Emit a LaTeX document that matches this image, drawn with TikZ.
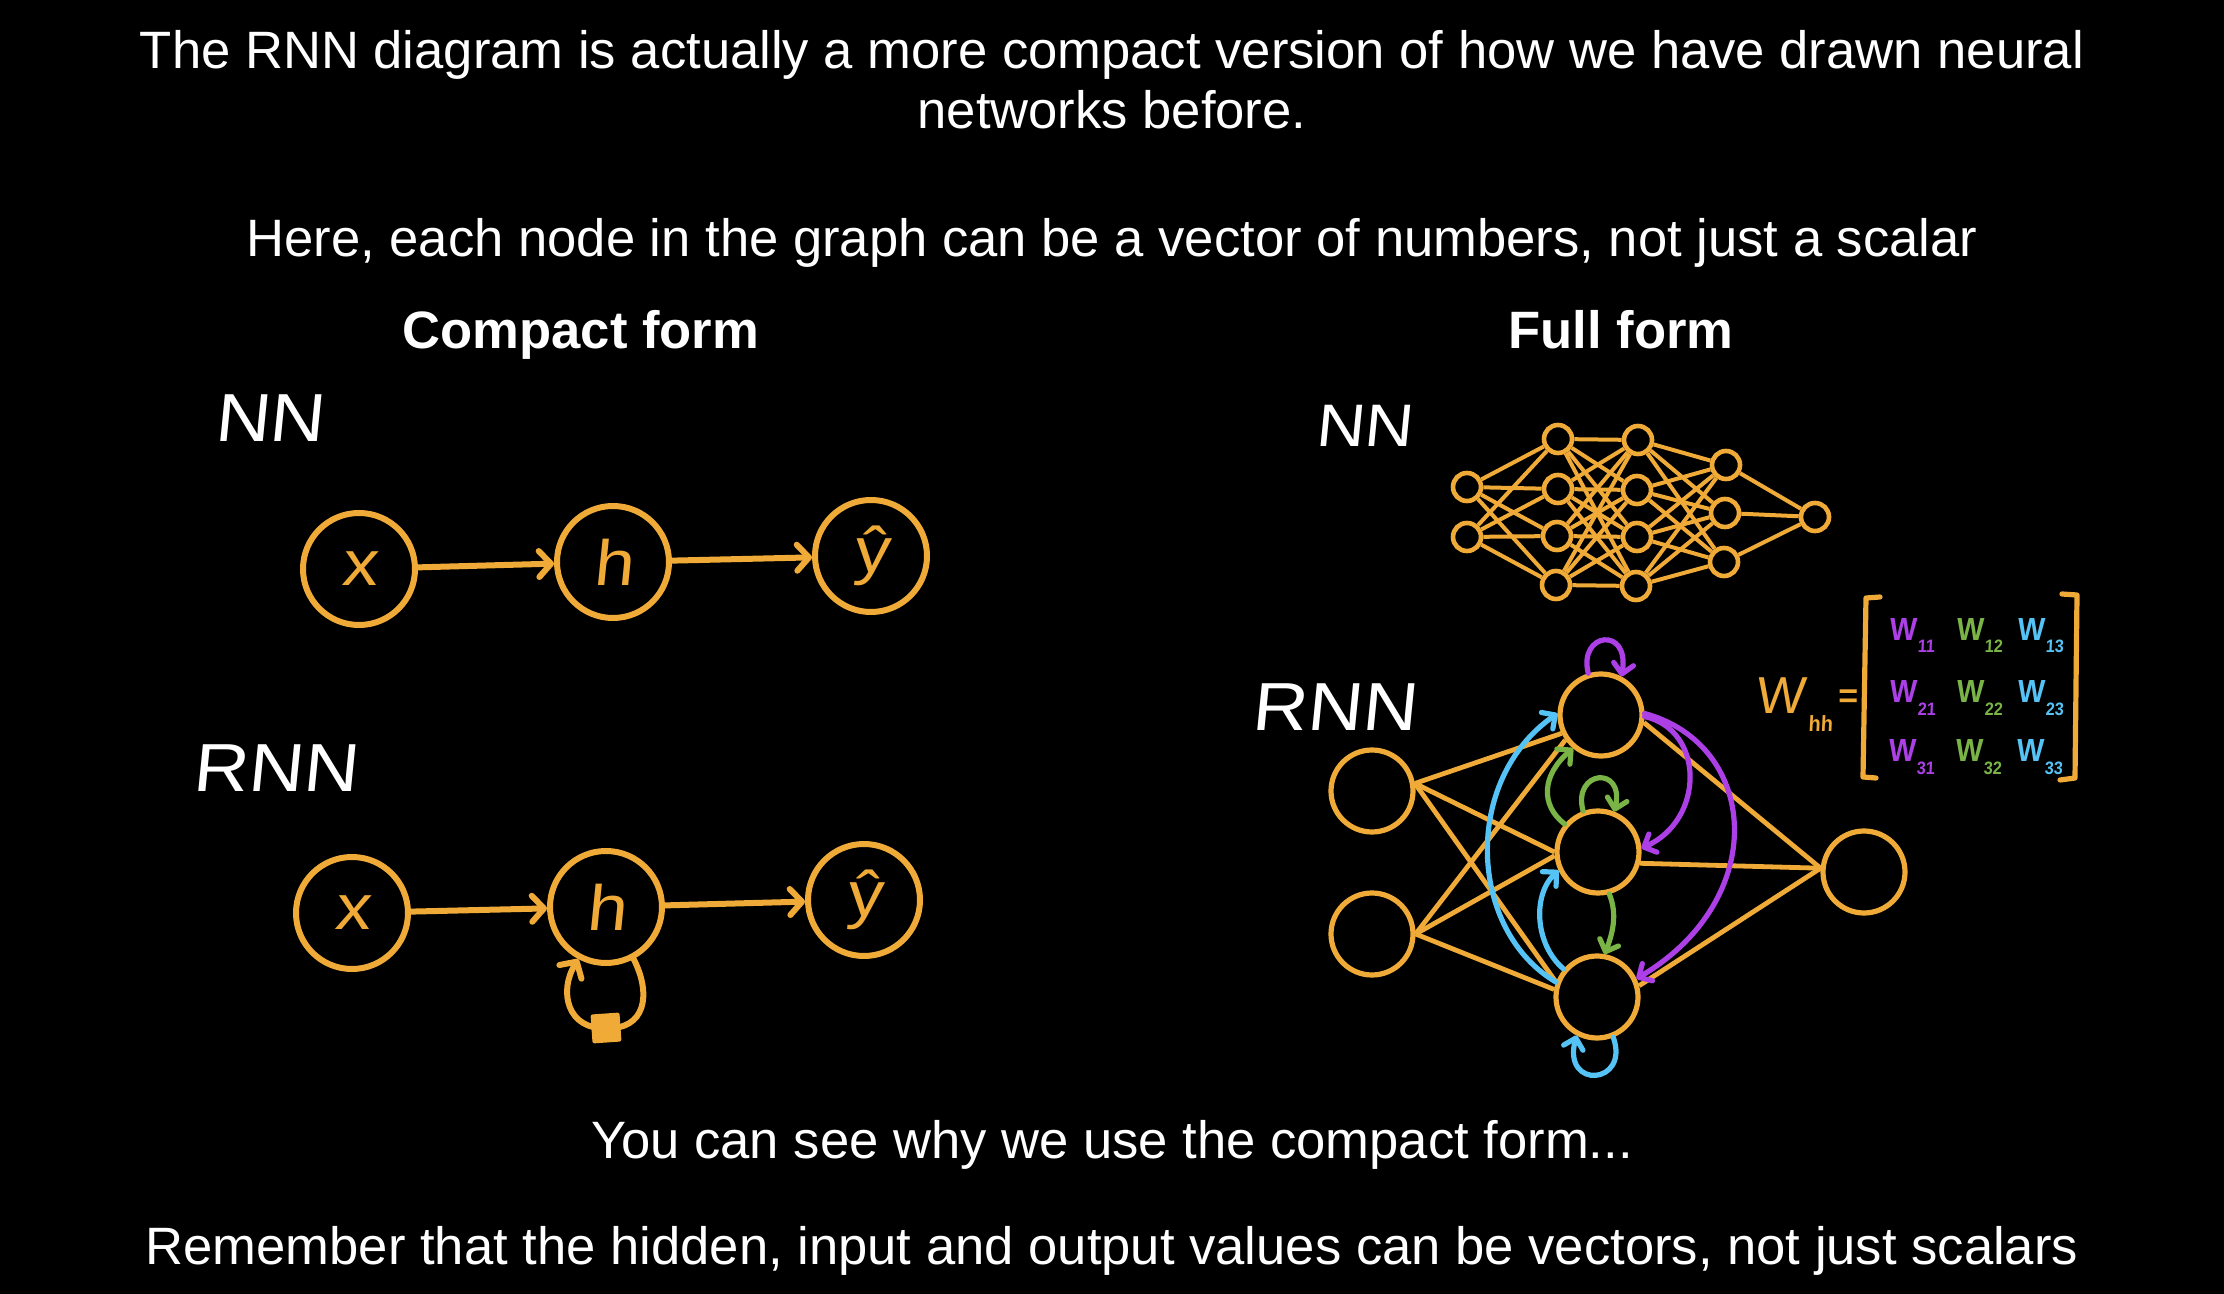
\documentclass[tikz,border=0pt]{standalone}
\usepackage{fontspec}
\setmainfont{Liberation Sans}
\newfontfamily\hand[FakeSlant=0.1,FakeStretch=1.12]{Liberation Sans}
\newfontfamily\handw[FakeSlant=0.1]{Liberation Sans}
\newfontfamily\handn[FakeSlant=0.05,FakeStretch=0.9]{Liberation Sans Bold}
\usetikzlibrary{arrows.meta}
\definecolor{org}{RGB}{240,170,55}
\definecolor{pur}{RGB}{172,64,230}
\definecolor{grn}{RGB}{122,180,70}
\definecolor{blu}{RGB}{85,195,245}
\begin{document}
\begin{tikzpicture}[x=0.5pt,y=-0.5pt,
  txt/.style={text=white,font=\fontsize{26.3}{30}\selectfont,anchor=base,inner sep=0pt},
  ttl/.style={text=white,font=\bfseries\fontsize{26.3}{30}\selectfont,anchor=base,inner sep=0pt},
  hw/.style={text=white,font=\hand\fontsize{34}{40}\selectfont,anchor=base,inner sep=0pt},
  cnode/.style={circle,draw=org,line width=3pt,minimum size=56pt,inner sep=0pt,text=org,font=\hand\fontsize{32}{36}\selectfont},
  fnode/.style={circle,draw=org,line width=2.3pt,minimum size=14pt,inner sep=0pt},
  rnode/.style={circle,draw=org,line width=2.6pt,minimum size=41pt,inner sep=0pt},
  carr/.style={draw=org,line width=3pt,line cap=round,-{Straight Barb[round,length=6pt,width=13pt]}},
  fl/.style={draw=org,line width=2pt},
  rl/.style={draw=org,line width=2.4pt},
  carc/.style={line width=2.6pt,line cap=round,-{Straight Barb[round,length=5pt,width=10pt]}},
  went/.style={anchor=base west,inner sep=0pt,font=\handn\fontsize{16}{20}\selectfont},
  sqbox/.style={rectangle,fill=org,minimum size=14.5pt,inner sep=0pt,rounded corners=1pt,rotate=4},
]
\fill[black] (0,0) rectangle (2224,1294);
\useasboundingbox (0,0) rectangle (2224,1294);

% texts
\node[txt] (t1) at (1112,69) {The RNN diagram is actually a more compact version of how we have drawn neural};
\node[txt] (t2) at (1112,129) {networks before.};
\node[txt] (t3) at (1112,257) {Here, each node in the graph can be a vector of numbers, not just a scalar};
\node[ttl] (tc) at (581,349) {Compact form};
\node[ttl] (tf) at (1621,349) {Full form};
\node[txt] (t4) at (1112,1158) {You can see why we use the compact form...};
\node[txt] (t5) at (1112,1264) {Remember that the hidden, input and output values can be vectors, not just scalars};

% handwritten labels
\node[hw] (lnn) at (269,442) {NN};
\node[hw] (lrnn) at (275,791) {RNN};
\node[hw,font=\hand\fontsize{30}{36}\selectfont] (lfnn) at (1364,447) {NN};
\node[hw] (lfrnn) at (1334,730) {RNN};

% compact NN
\node[cnode] (cnx) at (359,569) {x};
\node[cnode] (cnh) at (613,562) {h};
\node[cnode] (cny) at (871,556) {ŷ};
\draw[carr] (cnx) -- (cnh);
\draw[carr] (cnh) -- (cny);

% compact RNN
\node[cnode] (crx) at (352,913) {x};
\node[cnode] (crh) at (606,907) {h};
\node[cnode] (cry) at (864,900) {ŷ};
\draw[carr] (crx) -- (crh);
\draw[carr] (crh) -- (cry);
\coordinate (sqc) at (606,1028);
\draw[carr] (crh.-62) .. controls (652,995) and (645,1030) .. (sqc) .. controls (568,1030) and (558,992) .. (crh.-118);
\node[sqbox] (sq) at (sqc) {};

% full NN
\node[fnode] (a1) at (1467,487) {};
\node[fnode] (a2) at (1467,537) {};
\node[fnode] (b1) at (1558,439) {};
\node[fnode] (b2) at (1558,489) {};
\node[fnode] (b3) at (1557,536) {};
\node[fnode] (b4) at (1556,585) {};
\node[fnode] (c1) at (1638,440) {};
\node[fnode] (c2) at (1637,490) {};
\node[fnode] (c3) at (1637,537) {};
\node[fnode] (c4) at (1636,586) {};
\node[fnode] (d1) at (1726,465) {};
\node[fnode] (d2) at (1725,513) {};
\node[fnode] (d3) at (1724,562) {};
\node[fnode] (e1) at (1815,517) {};
\foreach \i in {a1,a2}{\foreach \j in {b1,b2,b3,b4}{\draw[fl] (\i) -- (\j);}}
\foreach \i in {b1,b2,b3,b4}{\foreach \j in {c1,c2,c3,c4}{\draw[fl] (\i) -- (\j);}}
\foreach \i in {c1,c2,c3,c4}{\foreach \j in {d1,d2,d3}{\draw[fl] (\i) -- (\j);}}
\foreach \i in {d1,d2,d3}{\draw[fl] (\i) -- (e1);}

% full RNN
\node[rnode] (i1) at (1372,791) {};
\node[rnode] (i2) at (1372,934) {};
\node[rnode] (h1) at (1601,715) {};
\node[rnode] (h2) at (1598,852) {};
\node[rnode] (h3) at (1597,997) {};
\node[rnode] (o) at (1864,872) {};
\draw[rl] (i1.10) -- (h1.205);
\draw[rl] (i1.10) -- (h2.180);
\draw[rl] (i1.10) -- (h3.160);
\draw[rl] (i2.0) -- (h1.215);
\draw[rl] (i2.0) -- (h2.185);
\draw[rl] (i2.0) -- (h3.170);
\draw[rl] (h1.-10) -- (o.175);
\draw[rl] (h2.-15) -- (o.175);
\draw[rl] (h3.15) -- (o.175);

\draw[carc,pur] (h1.107) .. controls (1578,632) and (1630,626) .. (h1.62);
\draw[carc,pur] (h1.-2) .. controls (1705,730) and (1705,820) .. (h2.5);
\draw[carc,pur] (h1.2) .. controls (1760,745) and (1770,900) .. (h3.25);
\draw[carc,grn] (h2.140) .. controls (1540,805) and (1542,775) .. (h1.230);
\draw[carc,grn] (h2.110) .. controls (1572,770) and (1625,765) .. (h2.68);
\draw[carc,grn] (h2.-75) .. controls (1618,915) and (1612,935) .. (h3.80);
\draw[carc,blu] (h3.140) .. controls (1535,945) and (1532,895) .. (h2.205);
\draw[carc,blu] (h3.160) .. controls (1468,930) and (1462,780) .. (h1.178);
\draw[carc,blu] (h3.-68) .. controls (1630,1085) and (1562,1090) .. (h3.-118);

% matrix
\node[anchor=base west,inner sep=0pt,text=org,font=\handw\fontsize{26}{30}\selectfont] (mw) at (1755,713) {W};
\node[anchor=base west,inner sep=0pt,text=org,font=\handn\fontsize{11}{14}\selectfont] (mwh) at (1808,732) {hh};
\node[anchor=base west,inner sep=0pt,text=org,font=\bfseries\fontsize{17}{20}\selectfont] (meq) at (1838,707) {=};
\draw[org,line width=2.6pt,line cap=round,line join=round] (1880,597) -- (1866,598) -- (1863,777) -- (1876,778);
\draw[org,line width=2.6pt,line cap=round,line join=round] (2062,594) -- (2077,595) -- (2075,778) -- (2060,780);
\newcommand{\went}[1]{W\kern0.5pt\raisebox{-6pt}{\fontsize{9}{9}\selectfont #1}}
\node[went,text=pur] (m11) at (1889,640) {\went{11}};
\node[went,text=grn] (m12) at (1956,640) {\went{12}};
\node[went,text=blu] (m13) at (2017,640) {\went{13}};
\node[went,text=pur] (m21) at (1889,703) {\went{21}};
\node[went,text=grn] (m22) at (1956,703) {\went{22}};
\node[went,text=blu] (m23) at (2017,703) {\went{23}};
\node[went,text=pur] (m31) at (1888,762) {\went{31}};
\node[went,text=grn] (m32) at (1955,762) {\went{32}};
\node[went,text=blu] (m33) at (2016,762) {\went{33}};
\end{tikzpicture}
\end{document}
